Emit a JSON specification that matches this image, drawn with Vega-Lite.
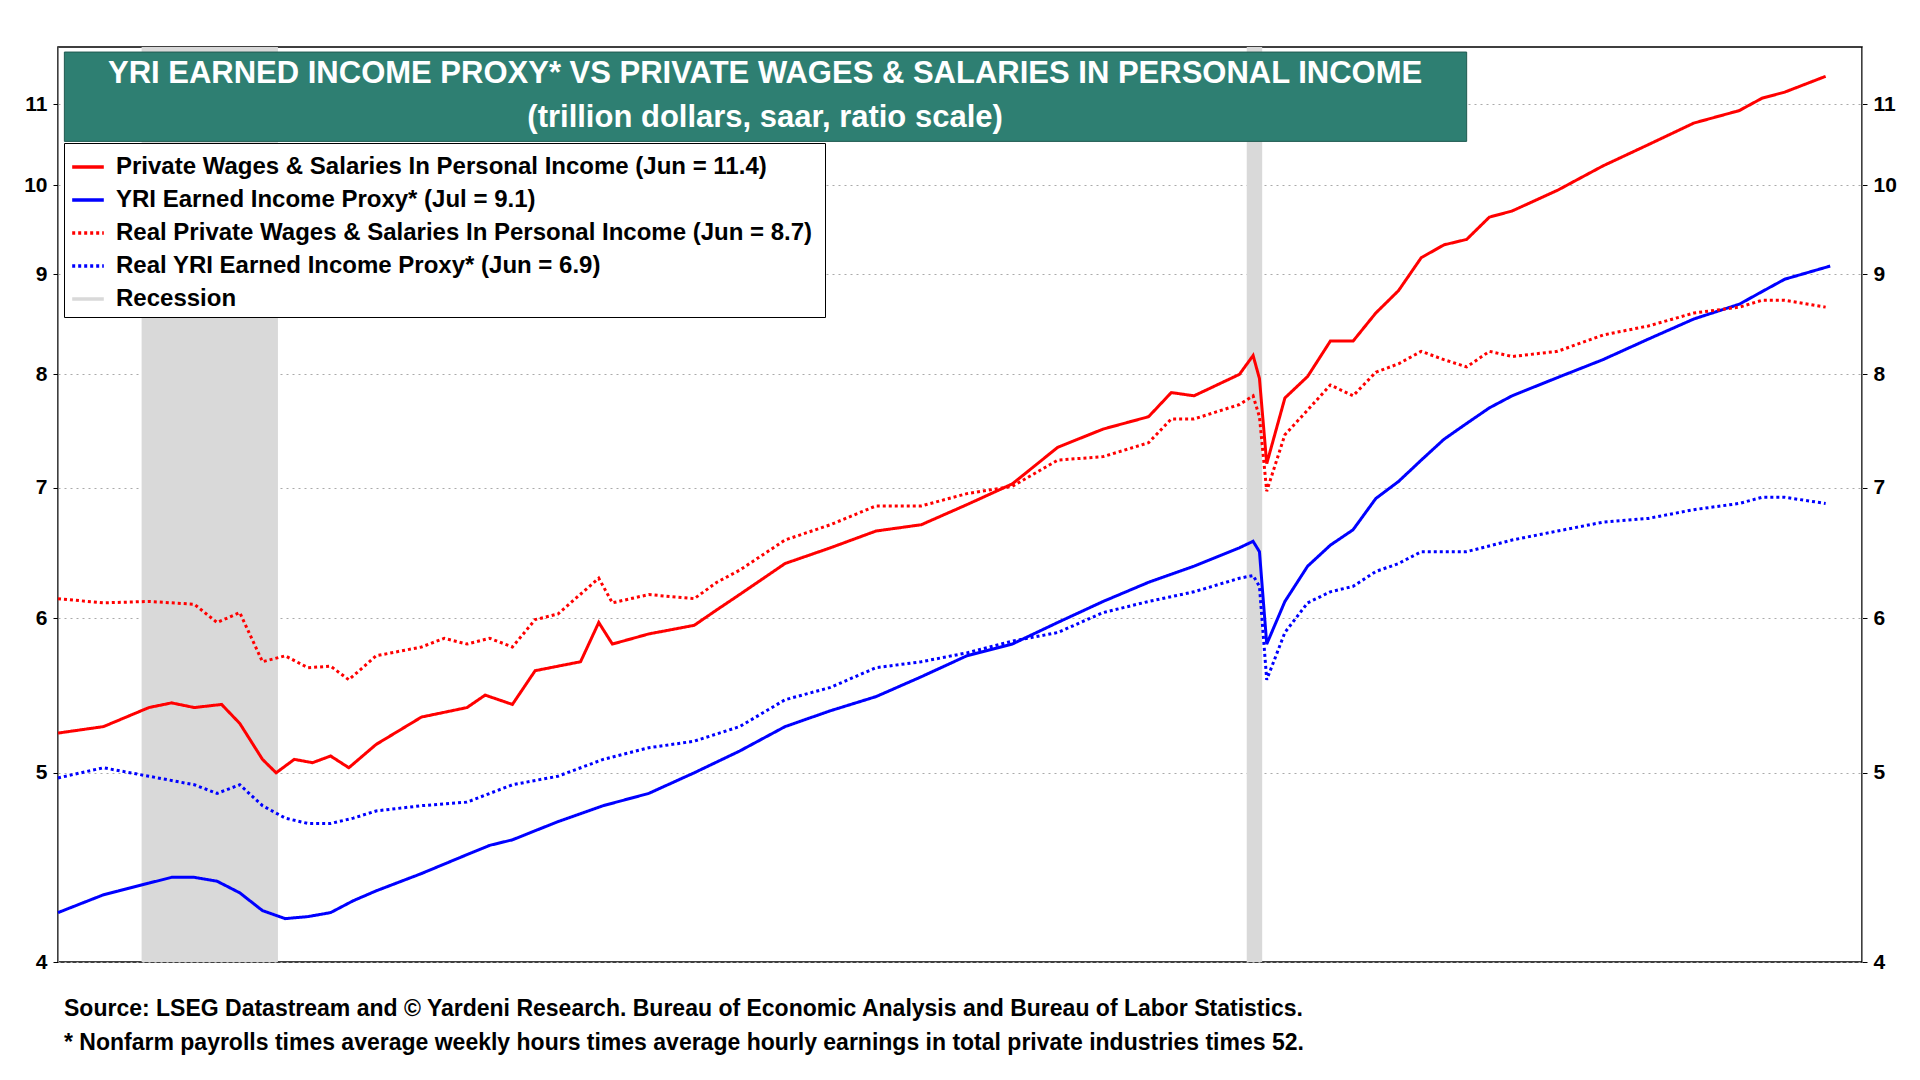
{
  "$schema": "https://vega.github.io/schema/vega-lite/v6.json",
  "width": 1804,
  "height": 915,
  "autosize": {"type": "none"},
  "padding": {"left": 58, "top": 47, "right": 58, "bottom": 118},
  "background": "white",
  "config": {
    "font": "Liberation Sans",
    "view": {"stroke": "black", "strokeWidth": 1.5}
  },
  "title": {
    "text": [
      "Source: LSEG Datastream and © Yardeni Research. Bureau of Economic Analysis and Bureau of Labor Statistics.",
      "* Nonfarm payrolls times average weekly hours times average hourly earnings in total private industries times 52."
    ],
    "orient": "bottom",
    "anchor": "start",
    "offset": 26,
    "dx": 6,
    "fontSize": 23,
    "fontWeight": "bold",
    "lineHeight": 34,
    "color": "black",
    "frame": "group"
  },
  "datasets": {
    "rec": [
      {"s": 2007.92, "e": 2009.42, "series": "Recession"},
      {"s": 2020.08, "e": 2020.25, "series": "Recession"}
    ],
    "box": [{"x1": 2007.07, "x2": 2022.5, "y1": 10.53, "y2": 11.70}],
    "ttl": [
      {"x": 2014.78, "y": 11.40, "t": "YRI EARNED INCOME PROXY* VS PRIVATE WAGES & SALARIES IN PERSONAL INCOME"},
      {"x": 2014.78, "y": 10.83, "t": "(trillion dollars, saar, ratio scale)"}
    ],
    "lines": [
      {"date": 2007.0, "series": "Private Wages & Salaries In Personal Income  (Jun = 11.4)", "v": 5.24},
      {"date": 2007.5, "series": "Private Wages & Salaries In Personal Income  (Jun = 11.4)", "v": 5.28},
      {"date": 2008.0, "series": "Private Wages & Salaries In Personal Income  (Jun = 11.4)", "v": 5.40},
      {"date": 2008.25, "series": "Private Wages & Salaries In Personal Income  (Jun = 11.4)", "v": 5.43},
      {"date": 2008.5, "series": "Private Wages & Salaries In Personal Income  (Jun = 11.4)", "v": 5.40},
      {"date": 2008.8, "series": "Private Wages & Salaries In Personal Income  (Jun = 11.4)", "v": 5.42},
      {"date": 2009.0, "series": "Private Wages & Salaries In Personal Income  (Jun = 11.4)", "v": 5.30},
      {"date": 2009.25, "series": "Private Wages & Salaries In Personal Income  (Jun = 11.4)", "v": 5.08},
      {"date": 2009.4, "series": "Private Wages & Salaries In Personal Income  (Jun = 11.4)", "v": 5.00},
      {"date": 2009.6, "series": "Private Wages & Salaries In Personal Income  (Jun = 11.4)", "v": 5.08},
      {"date": 2009.8, "series": "Private Wages & Salaries In Personal Income  (Jun = 11.4)", "v": 5.06},
      {"date": 2010.0, "series": "Private Wages & Salaries In Personal Income  (Jun = 11.4)", "v": 5.10},
      {"date": 2010.2, "series": "Private Wages & Salaries In Personal Income  (Jun = 11.4)", "v": 5.03},
      {"date": 2010.5, "series": "Private Wages & Salaries In Personal Income  (Jun = 11.4)", "v": 5.17},
      {"date": 2011.0, "series": "Private Wages & Salaries In Personal Income  (Jun = 11.4)", "v": 5.34},
      {"date": 2011.5, "series": "Private Wages & Salaries In Personal Income  (Jun = 11.4)", "v": 5.40},
      {"date": 2011.7, "series": "Private Wages & Salaries In Personal Income  (Jun = 11.4)", "v": 5.48},
      {"date": 2012.0, "series": "Private Wages & Salaries In Personal Income  (Jun = 11.4)", "v": 5.42},
      {"date": 2012.25, "series": "Private Wages & Salaries In Personal Income  (Jun = 11.4)", "v": 5.64},
      {"date": 2012.5, "series": "Private Wages & Salaries In Personal Income  (Jun = 11.4)", "v": 5.67},
      {"date": 2012.75, "series": "Private Wages & Salaries In Personal Income  (Jun = 11.4)", "v": 5.70},
      {"date": 2012.95, "series": "Private Wages & Salaries In Personal Income  (Jun = 11.4)", "v": 5.97},
      {"date": 2013.1, "series": "Private Wages & Salaries In Personal Income  (Jun = 11.4)", "v": 5.82},
      {"date": 2013.5, "series": "Private Wages & Salaries In Personal Income  (Jun = 11.4)", "v": 5.89},
      {"date": 2014.0, "series": "Private Wages & Salaries In Personal Income  (Jun = 11.4)", "v": 5.95},
      {"date": 2014.25, "series": "Private Wages & Salaries In Personal Income  (Jun = 11.4)", "v": 6.06},
      {"date": 2014.5, "series": "Private Wages & Salaries In Personal Income  (Jun = 11.4)", "v": 6.17},
      {"date": 2015.0, "series": "Private Wages & Salaries In Personal Income  (Jun = 11.4)", "v": 6.40},
      {"date": 2015.5, "series": "Private Wages & Salaries In Personal Income  (Jun = 11.4)", "v": 6.52},
      {"date": 2016.0, "series": "Private Wages & Salaries In Personal Income  (Jun = 11.4)", "v": 6.65},
      {"date": 2016.5, "series": "Private Wages & Salaries In Personal Income  (Jun = 11.4)", "v": 6.70},
      {"date": 2017.0, "series": "Private Wages & Salaries In Personal Income  (Jun = 11.4)", "v": 6.86},
      {"date": 2017.5, "series": "Private Wages & Salaries In Personal Income  (Jun = 11.4)", "v": 7.03},
      {"date": 2018.0, "series": "Private Wages & Salaries In Personal Income  (Jun = 11.4)", "v": 7.34},
      {"date": 2018.5, "series": "Private Wages & Salaries In Personal Income  (Jun = 11.4)", "v": 7.50},
      {"date": 2019.0, "series": "Private Wages & Salaries In Personal Income  (Jun = 11.4)", "v": 7.61},
      {"date": 2019.25, "series": "Private Wages & Salaries In Personal Income  (Jun = 11.4)", "v": 7.83},
      {"date": 2019.5, "series": "Private Wages & Salaries In Personal Income  (Jun = 11.4)", "v": 7.80},
      {"date": 2020.0, "series": "Private Wages & Salaries In Personal Income  (Jun = 11.4)", "v": 8.00},
      {"date": 2020.15, "series": "Private Wages & Salaries In Personal Income  (Jun = 11.4)", "v": 8.18},
      {"date": 2020.22, "series": "Private Wages & Salaries In Personal Income  (Jun = 11.4)", "v": 7.96},
      {"date": 2020.3, "series": "Private Wages & Salaries In Personal Income  (Jun = 11.4)", "v": 7.20},
      {"date": 2020.5, "series": "Private Wages & Salaries In Personal Income  (Jun = 11.4)", "v": 7.78},
      {"date": 2020.75, "series": "Private Wages & Salaries In Personal Income  (Jun = 11.4)", "v": 7.98},
      {"date": 2021.0, "series": "Private Wages & Salaries In Personal Income  (Jun = 11.4)", "v": 8.32},
      {"date": 2021.25, "series": "Private Wages & Salaries In Personal Income  (Jun = 11.4)", "v": 8.32},
      {"date": 2021.5, "series": "Private Wages & Salaries In Personal Income  (Jun = 11.4)", "v": 8.60},
      {"date": 2021.75, "series": "Private Wages & Salaries In Personal Income  (Jun = 11.4)", "v": 8.83},
      {"date": 2022.0, "series": "Private Wages & Salaries In Personal Income  (Jun = 11.4)", "v": 9.18},
      {"date": 2022.25, "series": "Private Wages & Salaries In Personal Income  (Jun = 11.4)", "v": 9.32},
      {"date": 2022.5, "series": "Private Wages & Salaries In Personal Income  (Jun = 11.4)", "v": 9.38},
      {"date": 2022.75, "series": "Private Wages & Salaries In Personal Income  (Jun = 11.4)", "v": 9.63},
      {"date": 2023.0, "series": "Private Wages & Salaries In Personal Income  (Jun = 11.4)", "v": 9.70},
      {"date": 2023.5, "series": "Private Wages & Salaries In Personal Income  (Jun = 11.4)", "v": 9.94},
      {"date": 2024.0, "series": "Private Wages & Salaries In Personal Income  (Jun = 11.4)", "v": 10.23},
      {"date": 2024.5, "series": "Private Wages & Salaries In Personal Income  (Jun = 11.4)", "v": 10.49},
      {"date": 2025.0, "series": "Private Wages & Salaries In Personal Income  (Jun = 11.4)", "v": 10.76},
      {"date": 2025.5, "series": "Private Wages & Salaries In Personal Income  (Jun = 11.4)", "v": 10.92},
      {"date": 2025.75, "series": "Private Wages & Salaries In Personal Income  (Jun = 11.4)", "v": 11.08},
      {"date": 2026.0, "series": "Private Wages & Salaries In Personal Income  (Jun = 11.4)", "v": 11.16},
      {"date": 2026.45, "series": "Private Wages & Salaries In Personal Income  (Jun = 11.4)", "v": 11.37},

      {"date": 2007.0, "series": "YRI Earned Income Proxy* (Jul = 9.1)", "v": 4.24},
      {"date": 2007.5, "series": "YRI Earned Income Proxy* (Jul = 9.1)", "v": 4.33},
      {"date": 2008.0, "series": "YRI Earned Income Proxy* (Jul = 9.1)", "v": 4.39},
      {"date": 2008.25, "series": "YRI Earned Income Proxy* (Jul = 9.1)", "v": 4.42},
      {"date": 2008.5, "series": "YRI Earned Income Proxy* (Jul = 9.1)", "v": 4.42},
      {"date": 2008.75, "series": "YRI Earned Income Proxy* (Jul = 9.1)", "v": 4.40},
      {"date": 2009.0, "series": "YRI Earned Income Proxy* (Jul = 9.1)", "v": 4.34},
      {"date": 2009.25, "series": "YRI Earned Income Proxy* (Jul = 9.1)", "v": 4.25},
      {"date": 2009.5, "series": "YRI Earned Income Proxy* (Jul = 9.1)", "v": 4.21},
      {"date": 2009.75, "series": "YRI Earned Income Proxy* (Jul = 9.1)", "v": 4.22},
      {"date": 2010.0, "series": "YRI Earned Income Proxy* (Jul = 9.1)", "v": 4.24},
      {"date": 2010.25, "series": "YRI Earned Income Proxy* (Jul = 9.1)", "v": 4.30},
      {"date": 2010.5, "series": "YRI Earned Income Proxy* (Jul = 9.1)", "v": 4.35},
      {"date": 2011.0, "series": "YRI Earned Income Proxy* (Jul = 9.1)", "v": 4.44},
      {"date": 2011.5, "series": "YRI Earned Income Proxy* (Jul = 9.1)", "v": 4.54},
      {"date": 2011.75, "series": "YRI Earned Income Proxy* (Jul = 9.1)", "v": 4.59},
      {"date": 2012.0, "series": "YRI Earned Income Proxy* (Jul = 9.1)", "v": 4.62},
      {"date": 2012.5, "series": "YRI Earned Income Proxy* (Jul = 9.1)", "v": 4.72},
      {"date": 2013.0, "series": "YRI Earned Income Proxy* (Jul = 9.1)", "v": 4.81},
      {"date": 2013.5, "series": "YRI Earned Income Proxy* (Jul = 9.1)", "v": 4.88},
      {"date": 2014.0, "series": "YRI Earned Income Proxy* (Jul = 9.1)", "v": 5.00},
      {"date": 2014.5, "series": "YRI Earned Income Proxy* (Jul = 9.1)", "v": 5.13},
      {"date": 2015.0, "series": "YRI Earned Income Proxy* (Jul = 9.1)", "v": 5.28},
      {"date": 2015.5, "series": "YRI Earned Income Proxy* (Jul = 9.1)", "v": 5.38},
      {"date": 2016.0, "series": "YRI Earned Income Proxy* (Jul = 9.1)", "v": 5.47},
      {"date": 2016.5, "series": "YRI Earned Income Proxy* (Jul = 9.1)", "v": 5.60},
      {"date": 2017.0, "series": "YRI Earned Income Proxy* (Jul = 9.1)", "v": 5.74},
      {"date": 2017.5, "series": "YRI Earned Income Proxy* (Jul = 9.1)", "v": 5.82},
      {"date": 2018.0, "series": "YRI Earned Income Proxy* (Jul = 9.1)", "v": 5.97},
      {"date": 2018.5, "series": "YRI Earned Income Proxy* (Jul = 9.1)", "v": 6.12},
      {"date": 2019.0, "series": "YRI Earned Income Proxy* (Jul = 9.1)", "v": 6.26},
      {"date": 2019.5, "series": "YRI Earned Income Proxy* (Jul = 9.1)", "v": 6.38},
      {"date": 2020.0, "series": "YRI Earned Income Proxy* (Jul = 9.1)", "v": 6.52},
      {"date": 2020.15, "series": "YRI Earned Income Proxy* (Jul = 9.1)", "v": 6.57},
      {"date": 2020.22, "series": "YRI Earned Income Proxy* (Jul = 9.1)", "v": 6.49},
      {"date": 2020.3, "series": "YRI Earned Income Proxy* (Jul = 9.1)", "v": 5.82},
      {"date": 2020.5, "series": "YRI Earned Income Proxy* (Jul = 9.1)", "v": 6.12},
      {"date": 2020.75, "series": "YRI Earned Income Proxy* (Jul = 9.1)", "v": 6.38},
      {"date": 2021.0, "series": "YRI Earned Income Proxy* (Jul = 9.1)", "v": 6.54},
      {"date": 2021.25, "series": "YRI Earned Income Proxy* (Jul = 9.1)", "v": 6.66},
      {"date": 2021.5, "series": "YRI Earned Income Proxy* (Jul = 9.1)", "v": 6.91},
      {"date": 2021.75, "series": "YRI Earned Income Proxy* (Jul = 9.1)", "v": 7.05},
      {"date": 2022.0, "series": "YRI Earned Income Proxy* (Jul = 9.1)", "v": 7.23},
      {"date": 2022.25, "series": "YRI Earned Income Proxy* (Jul = 9.1)", "v": 7.41},
      {"date": 2022.5, "series": "YRI Earned Income Proxy* (Jul = 9.1)", "v": 7.55},
      {"date": 2022.75, "series": "YRI Earned Income Proxy* (Jul = 9.1)", "v": 7.69},
      {"date": 2023.0, "series": "YRI Earned Income Proxy* (Jul = 9.1)", "v": 7.80},
      {"date": 2023.5, "series": "YRI Earned Income Proxy* (Jul = 9.1)", "v": 7.97},
      {"date": 2024.0, "series": "YRI Earned Income Proxy* (Jul = 9.1)", "v": 8.14},
      {"date": 2024.5, "series": "YRI Earned Income Proxy* (Jul = 9.1)", "v": 8.34},
      {"date": 2025.0, "series": "YRI Earned Income Proxy* (Jul = 9.1)", "v": 8.54},
      {"date": 2025.5, "series": "YRI Earned Income Proxy* (Jul = 9.1)", "v": 8.69},
      {"date": 2025.75, "series": "YRI Earned Income Proxy* (Jul = 9.1)", "v": 8.82},
      {"date": 2026.0, "series": "YRI Earned Income Proxy* (Jul = 9.1)", "v": 8.95},
      {"date": 2026.5, "series": "YRI Earned Income Proxy* (Jul = 9.1)", "v": 9.09},

      {"date": 2007.0, "series": "Real Private Wages & Salaries In Personal Income  (Jun = 8.7)", "v": 6.14},
      {"date": 2007.5, "series": "Real Private Wages & Salaries In Personal Income  (Jun = 8.7)", "v": 6.11},
      {"date": 2008.0, "series": "Real Private Wages & Salaries In Personal Income  (Jun = 8.7)", "v": 6.12},
      {"date": 2008.5, "series": "Real Private Wages & Salaries In Personal Income  (Jun = 8.7)", "v": 6.10},
      {"date": 2008.75, "series": "Real Private Wages & Salaries In Personal Income  (Jun = 8.7)", "v": 5.97},
      {"date": 2009.0, "series": "Real Private Wages & Salaries In Personal Income  (Jun = 8.7)", "v": 6.04},
      {"date": 2009.25, "series": "Real Private Wages & Salaries In Personal Income  (Jun = 8.7)", "v": 5.70},
      {"date": 2009.5, "series": "Real Private Wages & Salaries In Personal Income  (Jun = 8.7)", "v": 5.74},
      {"date": 2009.75, "series": "Real Private Wages & Salaries In Personal Income  (Jun = 8.7)", "v": 5.66},
      {"date": 2010.0, "series": "Real Private Wages & Salaries In Personal Income  (Jun = 8.7)", "v": 5.67},
      {"date": 2010.2, "series": "Real Private Wages & Salaries In Personal Income  (Jun = 8.7)", "v": 5.58},
      {"date": 2010.5, "series": "Real Private Wages & Salaries In Personal Income  (Jun = 8.7)", "v": 5.74},
      {"date": 2011.0, "series": "Real Private Wages & Salaries In Personal Income  (Jun = 8.7)", "v": 5.80},
      {"date": 2011.25, "series": "Real Private Wages & Salaries In Personal Income  (Jun = 8.7)", "v": 5.86},
      {"date": 2011.5, "series": "Real Private Wages & Salaries In Personal Income  (Jun = 8.7)", "v": 5.82},
      {"date": 2011.75, "series": "Real Private Wages & Salaries In Personal Income  (Jun = 8.7)", "v": 5.86},
      {"date": 2012.0, "series": "Real Private Wages & Salaries In Personal Income  (Jun = 8.7)", "v": 5.80},
      {"date": 2012.25, "series": "Real Private Wages & Salaries In Personal Income  (Jun = 8.7)", "v": 5.99},
      {"date": 2012.5, "series": "Real Private Wages & Salaries In Personal Income  (Jun = 8.7)", "v": 6.03},
      {"date": 2012.95, "series": "Real Private Wages & Salaries In Personal Income  (Jun = 8.7)", "v": 6.29},
      {"date": 2013.1, "series": "Real Private Wages & Salaries In Personal Income  (Jun = 8.7)", "v": 6.11},
      {"date": 2013.5, "series": "Real Private Wages & Salaries In Personal Income  (Jun = 8.7)", "v": 6.17},
      {"date": 2014.0, "series": "Real Private Wages & Salaries In Personal Income  (Jun = 8.7)", "v": 6.14},
      {"date": 2014.25, "series": "Real Private Wages & Salaries In Personal Income  (Jun = 8.7)", "v": 6.26},
      {"date": 2014.5, "series": "Real Private Wages & Salaries In Personal Income  (Jun = 8.7)", "v": 6.35},
      {"date": 2015.0, "series": "Real Private Wages & Salaries In Personal Income  (Jun = 8.7)", "v": 6.58},
      {"date": 2015.5, "series": "Real Private Wages & Salaries In Personal Income  (Jun = 8.7)", "v": 6.70},
      {"date": 2016.0, "series": "Real Private Wages & Salaries In Personal Income  (Jun = 8.7)", "v": 6.85},
      {"date": 2016.5, "series": "Real Private Wages & Salaries In Personal Income  (Jun = 8.7)", "v": 6.85},
      {"date": 2017.0, "series": "Real Private Wages & Salaries In Personal Income  (Jun = 8.7)", "v": 6.95},
      {"date": 2017.5, "series": "Real Private Wages & Salaries In Personal Income  (Jun = 8.7)", "v": 7.01},
      {"date": 2018.0, "series": "Real Private Wages & Salaries In Personal Income  (Jun = 8.7)", "v": 7.23},
      {"date": 2018.5, "series": "Real Private Wages & Salaries In Personal Income  (Jun = 8.7)", "v": 7.26},
      {"date": 2019.0, "series": "Real Private Wages & Salaries In Personal Income  (Jun = 8.7)", "v": 7.38},
      {"date": 2019.25, "series": "Real Private Wages & Salaries In Personal Income  (Jun = 8.7)", "v": 7.59},
      {"date": 2019.5, "series": "Real Private Wages & Salaries In Personal Income  (Jun = 8.7)", "v": 7.59},
      {"date": 2020.0, "series": "Real Private Wages & Salaries In Personal Income  (Jun = 8.7)", "v": 7.72},
      {"date": 2020.15, "series": "Real Private Wages & Salaries In Personal Income  (Jun = 8.7)", "v": 7.80},
      {"date": 2020.22, "series": "Real Private Wages & Salaries In Personal Income  (Jun = 8.7)", "v": 7.61},
      {"date": 2020.3, "series": "Real Private Wages & Salaries In Personal Income  (Jun = 8.7)", "v": 6.97},
      {"date": 2020.5, "series": "Real Private Wages & Salaries In Personal Income  (Jun = 8.7)", "v": 7.45},
      {"date": 2020.75, "series": "Real Private Wages & Salaries In Personal Income  (Jun = 8.7)", "v": 7.67},
      {"date": 2021.0, "series": "Real Private Wages & Salaries In Personal Income  (Jun = 8.7)", "v": 7.90},
      {"date": 2021.25, "series": "Real Private Wages & Salaries In Personal Income  (Jun = 8.7)", "v": 7.80},
      {"date": 2021.5, "series": "Real Private Wages & Salaries In Personal Income  (Jun = 8.7)", "v": 8.02},
      {"date": 2021.75, "series": "Real Private Wages & Salaries In Personal Income  (Jun = 8.7)", "v": 8.10},
      {"date": 2022.0, "series": "Real Private Wages & Salaries In Personal Income  (Jun = 8.7)", "v": 8.22},
      {"date": 2022.25, "series": "Real Private Wages & Salaries In Personal Income  (Jun = 8.7)", "v": 8.14},
      {"date": 2022.5, "series": "Real Private Wages & Salaries In Personal Income  (Jun = 8.7)", "v": 8.07},
      {"date": 2022.75, "series": "Real Private Wages & Salaries In Personal Income  (Jun = 8.7)", "v": 8.22},
      {"date": 2023.0, "series": "Real Private Wages & Salaries In Personal Income  (Jun = 8.7)", "v": 8.17},
      {"date": 2023.5, "series": "Real Private Wages & Salaries In Personal Income  (Jun = 8.7)", "v": 8.22},
      {"date": 2024.0, "series": "Real Private Wages & Salaries In Personal Income  (Jun = 8.7)", "v": 8.38},
      {"date": 2024.5, "series": "Real Private Wages & Salaries In Personal Income  (Jun = 8.7)", "v": 8.47},
      {"date": 2025.0, "series": "Real Private Wages & Salaries In Personal Income  (Jun = 8.7)", "v": 8.60},
      {"date": 2025.5, "series": "Real Private Wages & Salaries In Personal Income  (Jun = 8.7)", "v": 8.66},
      {"date": 2025.75, "series": "Real Private Wages & Salaries In Personal Income  (Jun = 8.7)", "v": 8.73},
      {"date": 2026.0, "series": "Real Private Wages & Salaries In Personal Income  (Jun = 8.7)", "v": 8.73},
      {"date": 2026.45, "series": "Real Private Wages & Salaries In Personal Income  (Jun = 8.7)", "v": 8.66},

      {"date": 2007.0, "series": "Real YRI Earned Income Proxy* (Jun = 6.9)", "v": 4.97},
      {"date": 2007.5, "series": "Real YRI Earned Income Proxy* (Jun = 6.9)", "v": 5.03},
      {"date": 2008.0, "series": "Real YRI Earned Income Proxy* (Jun = 6.9)", "v": 4.98},
      {"date": 2008.5, "series": "Real YRI Earned Income Proxy* (Jun = 6.9)", "v": 4.93},
      {"date": 2008.75, "series": "Real YRI Earned Income Proxy* (Jun = 6.9)", "v": 4.88},
      {"date": 2009.0, "series": "Real YRI Earned Income Proxy* (Jun = 6.9)", "v": 4.93},
      {"date": 2009.25, "series": "Real YRI Earned Income Proxy* (Jun = 6.9)", "v": 4.81},
      {"date": 2009.5, "series": "Real YRI Earned Income Proxy* (Jun = 6.9)", "v": 4.74},
      {"date": 2009.75, "series": "Real YRI Earned Income Proxy* (Jun = 6.9)", "v": 4.71},
      {"date": 2010.0, "series": "Real YRI Earned Income Proxy* (Jun = 6.9)", "v": 4.71},
      {"date": 2010.25, "series": "Real YRI Earned Income Proxy* (Jun = 6.9)", "v": 4.74},
      {"date": 2010.5, "series": "Real YRI Earned Income Proxy* (Jun = 6.9)", "v": 4.78},
      {"date": 2011.0, "series": "Real YRI Earned Income Proxy* (Jun = 6.9)", "v": 4.81},
      {"date": 2011.5, "series": "Real YRI Earned Income Proxy* (Jun = 6.9)", "v": 4.83},
      {"date": 2012.0, "series": "Real YRI Earned Income Proxy* (Jun = 6.9)", "v": 4.93},
      {"date": 2012.5, "series": "Real YRI Earned Income Proxy* (Jun = 6.9)", "v": 4.98},
      {"date": 2013.0, "series": "Real YRI Earned Income Proxy* (Jun = 6.9)", "v": 5.08},
      {"date": 2013.5, "series": "Real YRI Earned Income Proxy* (Jun = 6.9)", "v": 5.15},
      {"date": 2014.0, "series": "Real YRI Earned Income Proxy* (Jun = 6.9)", "v": 5.19},
      {"date": 2014.5, "series": "Real YRI Earned Income Proxy* (Jun = 6.9)", "v": 5.28},
      {"date": 2015.0, "series": "Real YRI Earned Income Proxy* (Jun = 6.9)", "v": 5.45},
      {"date": 2015.5, "series": "Real YRI Earned Income Proxy* (Jun = 6.9)", "v": 5.53},
      {"date": 2016.0, "series": "Real YRI Earned Income Proxy* (Jun = 6.9)", "v": 5.66},
      {"date": 2016.5, "series": "Real YRI Earned Income Proxy* (Jun = 6.9)", "v": 5.70},
      {"date": 2017.0, "series": "Real YRI Earned Income Proxy* (Jun = 6.9)", "v": 5.76},
      {"date": 2017.5, "series": "Real YRI Earned Income Proxy* (Jun = 6.9)", "v": 5.84},
      {"date": 2018.0, "series": "Real YRI Earned Income Proxy* (Jun = 6.9)", "v": 5.90},
      {"date": 2018.5, "series": "Real YRI Earned Income Proxy* (Jun = 6.9)", "v": 6.04},
      {"date": 2019.0, "series": "Real YRI Earned Income Proxy* (Jun = 6.9)", "v": 6.12},
      {"date": 2019.5, "series": "Real YRI Earned Income Proxy* (Jun = 6.9)", "v": 6.19},
      {"date": 2020.0, "series": "Real YRI Earned Income Proxy* (Jun = 6.9)", "v": 6.29},
      {"date": 2020.15, "series": "Real YRI Earned Income Proxy* (Jun = 6.9)", "v": 6.31},
      {"date": 2020.22, "series": "Real YRI Earned Income Proxy* (Jun = 6.9)", "v": 6.23},
      {"date": 2020.3, "series": "Real YRI Earned Income Proxy* (Jun = 6.9)", "v": 5.58},
      {"date": 2020.5, "series": "Real YRI Earned Income Proxy* (Jun = 6.9)", "v": 5.90},
      {"date": 2020.75, "series": "Real YRI Earned Income Proxy* (Jun = 6.9)", "v": 6.11},
      {"date": 2021.0, "series": "Real YRI Earned Income Proxy* (Jun = 6.9)", "v": 6.19},
      {"date": 2021.25, "series": "Real YRI Earned Income Proxy* (Jun = 6.9)", "v": 6.23},
      {"date": 2021.5, "series": "Real YRI Earned Income Proxy* (Jun = 6.9)", "v": 6.34},
      {"date": 2021.75, "series": "Real YRI Earned Income Proxy* (Jun = 6.9)", "v": 6.40},
      {"date": 2022.0, "series": "Real YRI Earned Income Proxy* (Jun = 6.9)", "v": 6.49},
      {"date": 2022.5, "series": "Real YRI Earned Income Proxy* (Jun = 6.9)", "v": 6.49},
      {"date": 2023.0, "series": "Real YRI Earned Income Proxy* (Jun = 6.9)", "v": 6.58},
      {"date": 2023.5, "series": "Real YRI Earned Income Proxy* (Jun = 6.9)", "v": 6.65},
      {"date": 2024.0, "series": "Real YRI Earned Income Proxy* (Jun = 6.9)", "v": 6.72},
      {"date": 2024.5, "series": "Real YRI Earned Income Proxy* (Jun = 6.9)", "v": 6.75},
      {"date": 2025.0, "series": "Real YRI Earned Income Proxy* (Jun = 6.9)", "v": 6.82},
      {"date": 2025.5, "series": "Real YRI Earned Income Proxy* (Jun = 6.9)", "v": 6.87},
      {"date": 2025.75, "series": "Real YRI Earned Income Proxy* (Jun = 6.9)", "v": 6.92},
      {"date": 2026.0, "series": "Real YRI Earned Income Proxy* (Jun = 6.9)", "v": 6.92},
      {"date": 2026.45, "series": "Real YRI Earned Income Proxy* (Jun = 6.9)", "v": 6.87}
    ]
  },
  "layer": [
    {
      "data": {"name": "rec"},
      "mark": {"type": "rect", "color": "#d9d9d9"},
      "encoding": {
        "x": {"field": "s", "type": "quantitative"},
        "x2": {"field": "e"}
      }
    },
    {
      "data": {"name": "lines"},
      "mark": {"type": "line", "strokeWidth": 3},
      "encoding": {
        "x": {
          "field": "date", "type": "quantitative", "title": null,
          "scale": {"domain": [2007, 2026.85], "nice": false, "zero": false},
          "axis": {
            "values": [2007, 2008, 2009, 2010, 2011, 2012, 2013, 2014, 2015, 2016, 2017, 2018, 2019, 2020, 2021, 2022, 2023, 2024, 2025, 2026],
            "labelExpr": "datum.value % 2 == 0 ? datum.value : ''",
            "format": "d", "labelFontSize": 21, "labelColor": "black", "labelFontWeight": "bold",
            "tickColor": "black", "domainColor": "black", "labelPadding": 6,
            "grid": true, "gridDash": [2, 4], "gridColor": "#aaaaaa"
          }
        },
        "y": {
          "field": "v", "type": "quantitative", "title": null,
          "scale": {"type": "log", "domain": [4, 11.77], "nice": false, "zero": false},
          "axis": {
            "title": null, "values": [4, 5, 6, 7, 8, 9, 10, 11], "format": "d", "labelFontSize": 21,
            "labelColor": "black", "tickColor": "black", "labelPadding": 6, "labelFontWeight": "bold",
            "grid": true, "gridDash": [2, 4], "gridColor": "#aaaaaa"
          }
        },
        "color": {
          "field": "series", "type": "nominal", "title": null,
          "scale": {
            "domain": [
              "Private Wages & Salaries In Personal Income  (Jun = 11.4)",
              "YRI Earned Income Proxy* (Jul = 9.1)",
              "Real Private Wages & Salaries In Personal Income  (Jun = 8.7)",
              "Real YRI Earned Income Proxy* (Jun = 6.9)",
              "Recession"
            ],
            "range": ["#ff0000", "#0000ff", "#ff0000", "#0000ff", "#d9d9d9"]
          },
          "legend": {
            "orient": "none", "legendX": 6, "legendY": 96,
            "fillColor": "white", "strokeColor": "black", "padding": 6,
            "symbolType": "stroke", "symbolStrokeWidth": 3.5, "symbolSize": 1000,
            "labelFontSize": 24, "labelFontWeight": "bold", "labelColor": "black",
            "labelLimit": 1000, "rowPadding": 3, "labelOffset": 10
          }
        },
        "strokeDash": {
          "field": "series", "type": "nominal", "title": null,
          "scale": {
            "domain": [
              "Private Wages & Salaries In Personal Income  (Jun = 11.4)",
              "YRI Earned Income Proxy* (Jul = 9.1)",
              "Real Private Wages & Salaries In Personal Income  (Jun = 8.7)",
              "Real YRI Earned Income Proxy* (Jun = 6.9)",
              "Recession"
            ],
            "range": [[1, 0], [1, 0], [3, 3], [3, 3], [1, 0]]
          }
        }
      }
    },
    {
      "data": {"name": "lines"},
      "mark": {"type": "line", "opacity": 0},
      "encoding": {
        "x": {"field": "date", "type": "quantitative"},
        "y": {
          "field": "v", "type": "quantitative",
          "axis": {
            "orient": "right", "values": [4, 5, 6, 7, 8, 9, 10, 11], "format": "d",
            "labelFontSize": 21, "labelColor": "black", "tickColor": "black", "labelFontWeight": "bold",
            "labelPadding": 6, "title": null, "grid": false
          }
        }
      }
    },
    {
      "data": {"name": "box"},
      "mark": {"type": "rect", "color": "#2e7f72", "stroke": "#1f5a50"},
      "encoding": {
        "x": {"field": "x1", "type": "quantitative", "axis": null},
        "x2": {"field": "x2"},
        "y": {"field": "y1", "type": "quantitative", "axis": null},
        "y2": {"field": "y2"}
      }
    },
    {
      "data": {"name": "ttl"},
      "mark": {"type": "text", "color": "white", "fontSize": 31, "fontWeight": "bold", "align": "center", "baseline": "middle"},
      "encoding": {
        "x": {"field": "x", "type": "quantitative", "axis": null},
        "y": {"field": "y", "type": "quantitative", "axis": null},
        "text": {"field": "t"}
      }
    }
  ],
  "resolve": {"axis": {"y": "independent"}}
}
